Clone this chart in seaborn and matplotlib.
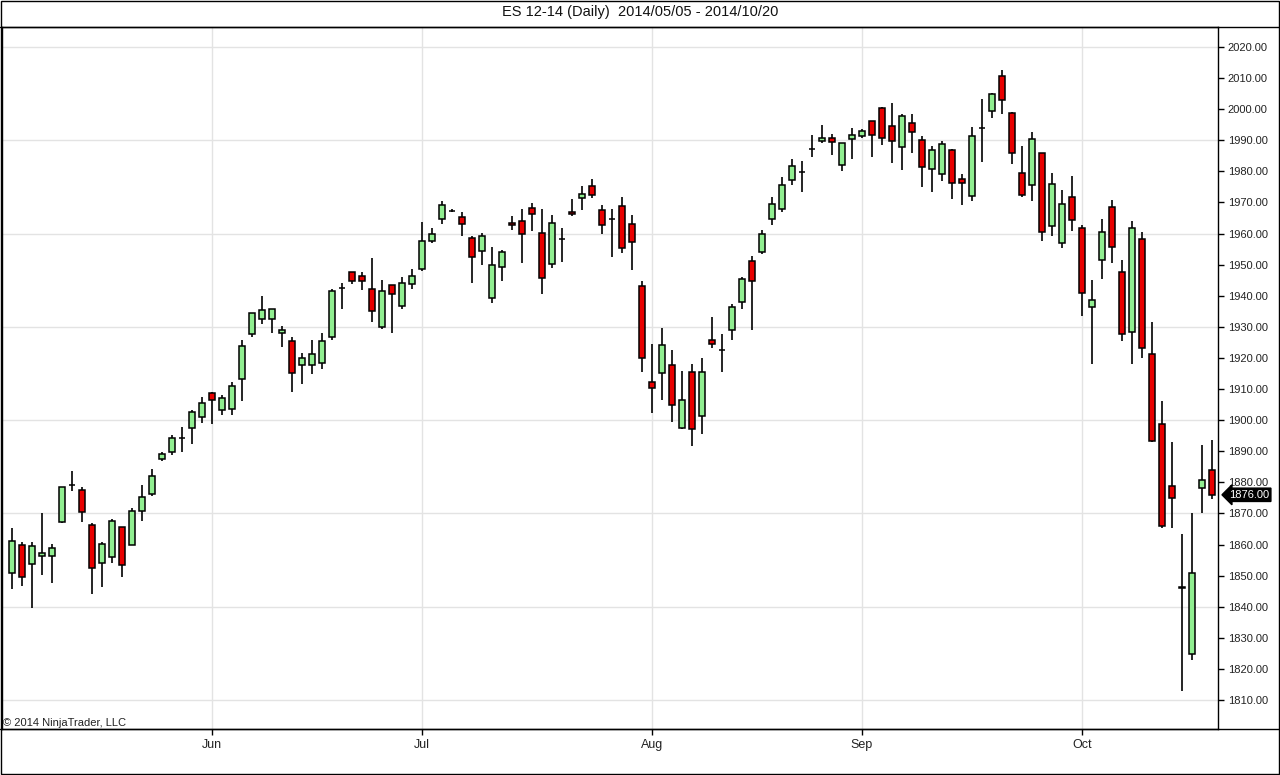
import pandas as pd
import matplotlib.pyplot as plt
import seaborn as sns
from matplotlib.patches import Rectangle
from matplotlib.lines import Line2D

# daily ES 12-14 bars
dates = pd.bdate_range('2014-05-05', '2014-10-20')

opens = [1850.8, 1859.8, 1853.7, 1856.3, 1856.2, 1867.1, 1879.3, 1877.5, 1866.2, 1854.2,
         1855.9, 1865.6, 1860.0, 1870.8, 1876.2, 1887.4, 1889.6, 1894.4, 1897.4, 1901.0,
         1908.6, 1903.2, 1903.5, 1913.1, 1927.6, 1932.5, 1932.5, 1928.0, 1925.4, 1917.6,
         1917.6, 1918.5, 1926.6, 1942.5, 1947.5, 1946.5, 1942.3, 1929.8, 1943.6, 1936.7,
         1943.8, 1948.7, 1957.7, 1964.8, 1967.4, 1965.3, 1958.5, 1954.3, 1939.2, 1949.1,
         1963.4, 1964.0, 1968.1, 1960.1, 1950.2, 1958.1, 1966.9, 1971.4, 1975.2, 1967.6,
         1964.6, 1968.7, 1963.2, 1943.0, 1912.4, 1915.3, 1917.6, 1897.5, 1915.6, 1901.2,
         1925.9, 1922.4, 1929.1, 1938.1, 1951.1, 1954.2, 1964.6, 1967.8, 1977.1, 1979.9,
         1987.2, 1989.6, 1990.6, 1982.0, 1990.5, 1991.3, 1996.1, 2000.4, 1994.5, 1987.7,
         1995.5, 1990.2, 1980.6, 1979.0, 1987.0, 1977.5, 1972.2, 1993.8, 1999.5, 2010.5,
         1998.6, 1979.6, 1975.7, 1986.0, 1962.3, 1957.1, 1971.7, 1961.9, 1936.5, 1951.6,
         1968.4, 1947.5, 1928.2, 1958.1, 1921.4, 1898.9, 1878.7, 1845.9, 1824.7, 1878.3,
         1884.1]
highs = [1865.3, 1860.9, 1860.9, 1870.0, 1860.1, 1878.6, 1883.7, 1878.6, 1866.8, 1860.9,
         1868.2, 1865.6, 1871.7, 1879.2, 1884.3, 1889.8, 1895.3, 1897.8, 1903.3, 1907.5,
         1909.2, 1908.1, 1912.3, 1925.7, 1934.4, 1939.9, 1935.7, 1930.2, 1926.6, 1921.7,
         1925.7, 1927.9, 1942.2, 1944.1, 1947.5, 1947.5, 1952.0, 1945.2, 1943.6, 1945.9,
         1948.7, 1963.6, 1961.9, 1970.3, 1968.0, 1967.0, 1959.1, 1960.2, 1955.6, 1954.7,
         1965.7, 1967.8, 1969.8, 1967.8, 1965.9, 1961.7, 1971.0, 1975.3, 1977.6, 1969.1,
         1968.0, 1971.6, 1966.1, 1944.7, 1924.4, 1929.5, 1922.4, 1915.7, 1917.9, 1920.1,
         1933.1, 1927.8, 1937.2, 1945.9, 1952.9, 1961.2, 1971.8, 1978.1, 1983.9, 1983.4,
         1991.7, 1994.9, 1992.0, 1989.0, 1993.9, 1993.6, 1996.1, 2000.8, 2001.9, 1998.4,
         1998.4, 1991.5, 1988.3, 1989.6, 1987.3, 1979.0, 1994.4, 2003.1, 2005.3, 2012.7,
         1999.2, 1988.0, 1992.6, 1986.0, 1979.4, 1974.0, 1978.5, 1962.7, 1945.2, 1964.6,
         1970.9, 1951.6, 1963.9, 1960.6, 1931.4, 1906.1, 1892.9, 1863.3, 1870.0, 1892.0,
         1893.6]
lows = [1845.7, 1846.8, 1839.6, 1850.1, 1847.5, 1866.8, 1877.1, 1867.4, 1844.1, 1846.2,
        1854.2, 1849.7, 1859.7, 1867.7, 1875.7, 1886.8, 1888.7, 1889.6, 1892.3, 1899.2,
        1898.7, 1901.5, 1901.8, 1906.0, 1926.6, 1930.9, 1927.9, 1923.4, 1909.2, 1911.5,
        1914.7, 1916.3, 1925.7, 1935.8, 1943.8, 1942.0, 1931.6, 1929.3, 1928.1, 1935.8,
        1942.1, 1948.0, 1956.8, 1963.2, 1966.8, 1959.1, 1944.2, 1950.0, 1937.6, 1944.6,
        1961.2, 1950.4, 1960.9, 1940.7, 1948.9, 1950.7, 1965.5, 1967.5, 1971.4, 1959.7,
        1952.5, 1953.8, 1948.3, 1915.5, 1902.3, 1906.6, 1899.5, 1897.2, 1891.7, 1895.7,
        1923.3, 1915.5, 1925.8, 1935.8, 1929.0, 1953.3, 1962.6, 1967.0, 1975.5, 1973.5,
        1984.7, 1989.0, 1985.4, 1980.0, 1984.1, 1990.6, 1984.7, 1988.4, 1982.6, 1980.4,
        1985.9, 1975.0, 1973.4, 1976.9, 1971.2, 1969.2, 1970.6, 1983.1, 1997.3, 1998.3,
        1982.5, 1971.6, 1970.3, 1957.7, 1959.3, 1955.5, 1960.9, 1933.5, 1918.1, 1945.4,
        1950.4, 1925.5, 1917.9, 1920.0, 1893.0, 1865.2, 1865.2, 1813.0, 1823.0, 1870.0,
        1874.8]
closes = [1861.2, 1849.5, 1859.5, 1857.2, 1858.9, 1878.6, 1879.3, 1870.6, 1852.4, 1860.1,
          1867.5, 1853.4, 1870.8, 1875.3, 1882.0, 1889.1, 1894.2, 1894.4, 1902.6, 1905.5,
          1906.4, 1907.1, 1910.9, 1923.8, 1934.4, 1935.4, 1935.7, 1928.9, 1915.1, 1920.1,
          1921.4, 1925.6, 1941.5, 1942.5, 1944.6, 1944.6, 1935.2, 1941.5, 1940.7, 1944.2,
          1946.5, 1957.7, 1959.7, 1969.3, 1967.4, 1963.0, 1952.4, 1959.1, 1949.8, 1954.1,
          1962.7, 1959.8, 1966.2, 1945.6, 1963.3, 1958.1, 1966.2, 1972.6, 1972.3, 1962.9,
          1964.6, 1955.2, 1957.4, 1920.1, 1910.2, 1924.0, 1905.0, 1906.6, 1897.3, 1915.6,
          1924.6, 1922.4, 1936.5, 1945.5, 1944.6, 1959.8, 1969.4, 1975.5, 1981.6, 1979.9,
          1987.2, 1990.6, 1989.4, 1989.0, 1991.6, 1992.9, 1991.6, 1990.6, 1989.7, 1997.7,
          1992.8, 1981.5, 1987.0, 1988.9, 1976.4, 1976.1, 1991.5, 1993.8, 2004.7, 2002.8,
          1986.0, 1972.5, 1990.5, 1960.6, 1975.9, 1969.4, 1964.5, 1941.0, 1938.5, 1960.6,
          1955.8, 1927.8, 1961.9, 1923.3, 1893.4, 1866.1, 1875.1, 1846.5, 1850.7, 1880.9,
          1876.0]

last_price = 1876.00
title = 'ES 12-14 (Daily)  2014/05/05 - 2014/10/20'

df = pd.DataFrame({'Date': dates, 'Open': opens, 'High': highs, 'Low': lows, 'Close': closes})
df['i'] = range(len(df))
df['up'] = df['Close'] >= df['Open']

sns.set_theme(style='white')
plt.rcParams['font.family'] = ['Liberation Sans', 'DejaVu Sans']

fig = plt.figure(figsize=(12.8, 7.75), dpi=100)
W, H = 1280, 775
ax = fig.add_axes([2 / W, (H - 729) / H, (1218 - 2) / W, (729 - 27) / H])

# grid
month_starts = df.groupby(df['Date'].dt.to_period('M'))['i'].first()
month_starts = month_starts[month_starts > 0]
for m in month_starts:
    ax.axvline(m, color='#e3e3e3', lw=1, zorder=0)
for g in range(1810, 2021, 30):
    ax.axhline(g, color='#e3e3e3', lw=1, zorder=0)

# wicks
ax.vlines(df['i'], df['Low'], df['High'], color='black', lw=1.2, zorder=2)

# bodies
body_bottom = df[['Open', 'Close']].min(axis=1)
body_height = (df['Close'] - df['Open']).abs()
colors = df['up'].map({True: '#90ee90', False: '#e80000'})
ax.bar(df['i'], body_height, bottom=body_bottom, width=0.62, color=colors,
       edgecolor='black', linewidth=1.1, zorder=3)

ax.set_xlim(-1.0, 120.6)
ax.set_ylim(1800.7, 2026.4)

ax.yaxis.tick_right()
ax.set_yticks(range(1810, 2021, 10))
ax.set_yticklabels([f'{v:.2f}' for v in range(1810, 2021, 10)])
ax.set_xticks(list(month_starts))
ax.set_xticklabels([d.strftime('%b') for d in df.loc[month_starts, 'Date']])
ax.tick_params(axis='y', which='both', right=True, direction='out', length=4,
               width=1, color='black', labelsize=8, pad=3, labelcolor='#222222')
ax.tick_params(axis='x', bottom=True, direction='out', length=4, width=1,
               color='black', labelsize=9, pad=3, labelcolor='#222222')
for s in ax.spines.values():
    s.set_color('black')
    s.set_linewidth(1)

ax.text(1 / 1216, 0.002, '\u00a9 2014 NinjaTrader, LLC', transform=ax.transAxes,
        fontsize=8, color='#222222', ha='left', va='bottom')

ax.annotate(f'{last_price:.2f}', xy=(1.0, last_price), xycoords=('axes fraction', 'data'),
            xytext=(8, 0), textcoords='offset points', fontsize=8, color='white',
            va='center', ha='left', annotation_clip=False, zorder=10,
            bbox=dict(boxstyle='larrow,pad=0.15', fc='black', ec='black'))

fig.text(0.5, 1 - 12 / H, title, ha='center', va='center', fontsize=10.5, color='#111111')

# outer frame lines
fig.add_artist(Rectangle((0.0005, 0.0015), 0.999, 0.997, transform=fig.transFigure,
                         fill=False, ec='black', lw=1))
fig.add_artist(Line2D([0, 1], [1 - 27 / H, 1 - 27 / H], transform=fig.transFigure,
                      color='black', lw=1))
fig.add_artist(Line2D([0, 1], [(H - 729) / H, (H - 729) / H], transform=fig.transFigure,
                      color='black', lw=1))

fig.savefig('out.png', dpi=100)
